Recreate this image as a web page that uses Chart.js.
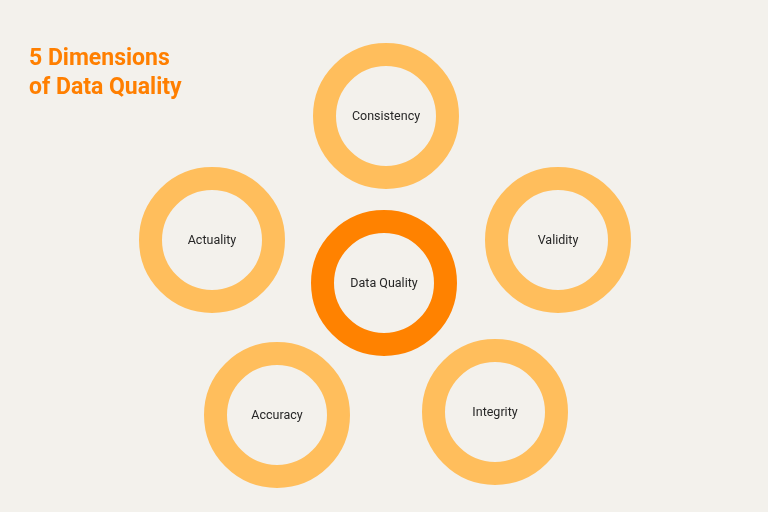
<!DOCTYPE html>
<html>
<head>
<meta charset="utf-8">
<script src="https://cdn.jsdelivr.net/npm/chart.js@4.4.1/dist/chart.umd.min.js"></script>
<style>
html,body{margin:0;padding:0;background:#F3F1EC;}
#wrap{position:relative;width:768px;height:512px;}
canvas{display:block;}
</style>
</head>
<body>
<div id="wrap"><canvas id="c" width="768" height="512"></canvas></div>
<script>
// Diagram data
const titleLines = ["5 Dimensions", "of Data Quality"];
const nodeLabels = ["Consistency", "Actuality", "Validity", "Data Quality", "Accuracy", "Integrity"];
const nodeX = [386, 212, 558, 384, 277, 495];
const nodeY = [116, 240, 240, 283, 415, 412];
const nodeIsCenter = [false, false, false, true, false, false];

const LIGHT = '#FFBE5C';
const DARK = '#FF8200';

const points = nodeX.map((x, i) => ({x: x, y: nodeY[i]}));

const labelPlugin = {
  id: 'labels',
  afterDatasetsDraw(chart) {
    const ctx = chart.ctx;
    const meta = chart.getDatasetMeta(0);
    ctx.save();
    ctx.fillStyle = '#262626';
    ctx.font = '12.5px Roboto';
    ctx.textAlign = 'center';
    ctx.textBaseline = 'middle';
    meta.data.forEach((el, i) => {
      ctx.fillText(nodeLabels[i], el.x, el.y + 1);
    });
    ctx.fillStyle = '#FF7F00';
    ctx.font = 'bold 23px Roboto';
    ctx.textAlign = 'left';
    ctx.textBaseline = 'alphabetic';
    titleLines.forEach((t, i) => ctx.fillText(t, 29, 65 + i * 29));
    ctx.restore();
  }
};

new Chart(document.getElementById('c'), {
  type: 'scatter',
  data: {
    datasets: [{
      data: points,
      pointRadius: 61.5,
      pointHoverRadius: 61.5,
      pointBorderWidth: 23,
      pointHoverBorderWidth: 23,
      pointBackgroundColor: 'rgba(0,0,0,0)',
      pointBorderColor: nodeIsCenter.map(c => c ? DARK : LIGHT),
      clip: false
    }]
  },
  options: {
    responsive: false,
    animation: false,
    devicePixelRatio: 1,
    events: [],
    layout: {padding: 0, autoPadding: false},
    plugins: {legend: {display: false}, tooltip: {enabled: false}, title: {display: false}},
    scales: {
      x: {type: 'linear', min: 0, max: 768, display: false},
      y: {type: 'linear', min: 0, max: 512, reverse: true, display: false}
    }
  },
  plugins: [labelPlugin]
});
</script>
</body>
</html>
